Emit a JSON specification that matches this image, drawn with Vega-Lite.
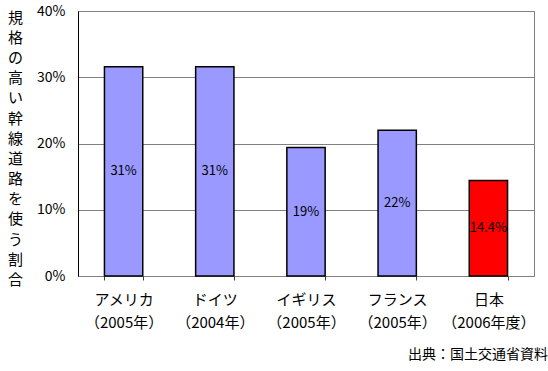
{
  "$schema": "https://vega.github.io/schema/vega-lite/v6.json",
  "width": 456,
  "height": 265,
  "autosize": "none",
  "padding": {"left": 78, "top": 11, "right": 14, "bottom": 95},
  "background": "white",
  "title": {
    "text": "出典：国土交通省資料",
    "orient": "bottom",
    "anchor": "end",
    "frame": "group",
    "offset": 18,
    "dx": 14,
    "font": "Noto Sans CJK JP",
    "fontSize": 14,
    "fontWeight": "normal",
    "color": "black"
  },
  "data": {
    "values": [
      {"country": "アメリカ|（2005年）", "value": 31.6, "label": "31%", "jp": "no"},
      {"country": "ドイツ|（2004年）", "value": 31.6, "label": "31%", "jp": "no"},
      {"country": "イギリス|（2005年）", "value": 19.4, "label": "19%", "jp": "no"},
      {"country": "フランス|（2005年）", "value": 22.0, "label": "22%", "jp": "no"},
      {"country": "日本|（2006年度）", "value": 14.4, "label": "14.4%", "jp": "yes"}
    ]
  },
  "config": {
    "view": {"stroke": "#808080", "strokeWidth": 1},
    "font": "Noto Sans CJK JP"
  },
  "encoding": {
    "x": {
      "field": "country",
      "type": "nominal",
      "sort": null,
      "scale": {"paddingInner": 0.58, "paddingOuter": 0.29},
      "axis": {
        "title": null,
        "labelAngle": 0,
        "labelExpr": "split(datum.label, '|')",
        "labelFont": "Noto Sans CJK JP",
        "labelFontSize": 15,
        "labelLineHeight": 23,
        "labelColor": "black",
        "labelPadding": 12,
        "labelBaseline": "top",
        "tickBand": "extent",
        "tickSize": 4,
        "tickColor": "#404040",
        "domainColor": "#808080",
        "ticks": true
      }
    }
  },
  "layer": [
    {
      "mark": {"type": "bar", "stroke": "black", "strokeWidth": 1.5},
      "encoding": {
        "y": {
          "field": "value",
          "type": "quantitative",
          "scale": {"domain": [0, 40]},
          "axis": {
            "values": [0, 10, 20, 30, 40],
            "labelExpr": "datum.value + '%'",
            "labelFontSize": 14,
            "labelColor": "black",
            "labelPadding": 13,
            "ticks": false,
            "domainColor": "black",
            "gridColor": "#808080",
            "gridOpacity": 1,
            "title": ["規","格","の","高","い","幹","線","道","路","を","使","う","割","合"],
            "titleAngle": 0,
            "titleX": -63,
            "titleY": -1,
            "titleAlign": "center",
            "titleBaseline": "top",
            "titleFontSize": 15,
            "titleLineHeight": 20.2,
            "titleFontWeight": "normal",
            "titleColor": "black"
          }
        },
        "color": {
          "field": "jp",
          "type": "nominal",
          "scale": {"domain": ["no", "yes"], "range": ["#9999ff", "#ff0000"]},
          "legend": null
        }
      }
    },
    {
      "transform": [{"calculate": "datum.value / 2", "as": "mid"}],
      "mark": {"type": "text", "fontSize": 13, "color": "black", "baseline": "middle"},
      "encoding": {
        "y": {"field": "mid", "type": "quantitative"},
        "text": {"field": "label"}
      }
    }
  ]
}
